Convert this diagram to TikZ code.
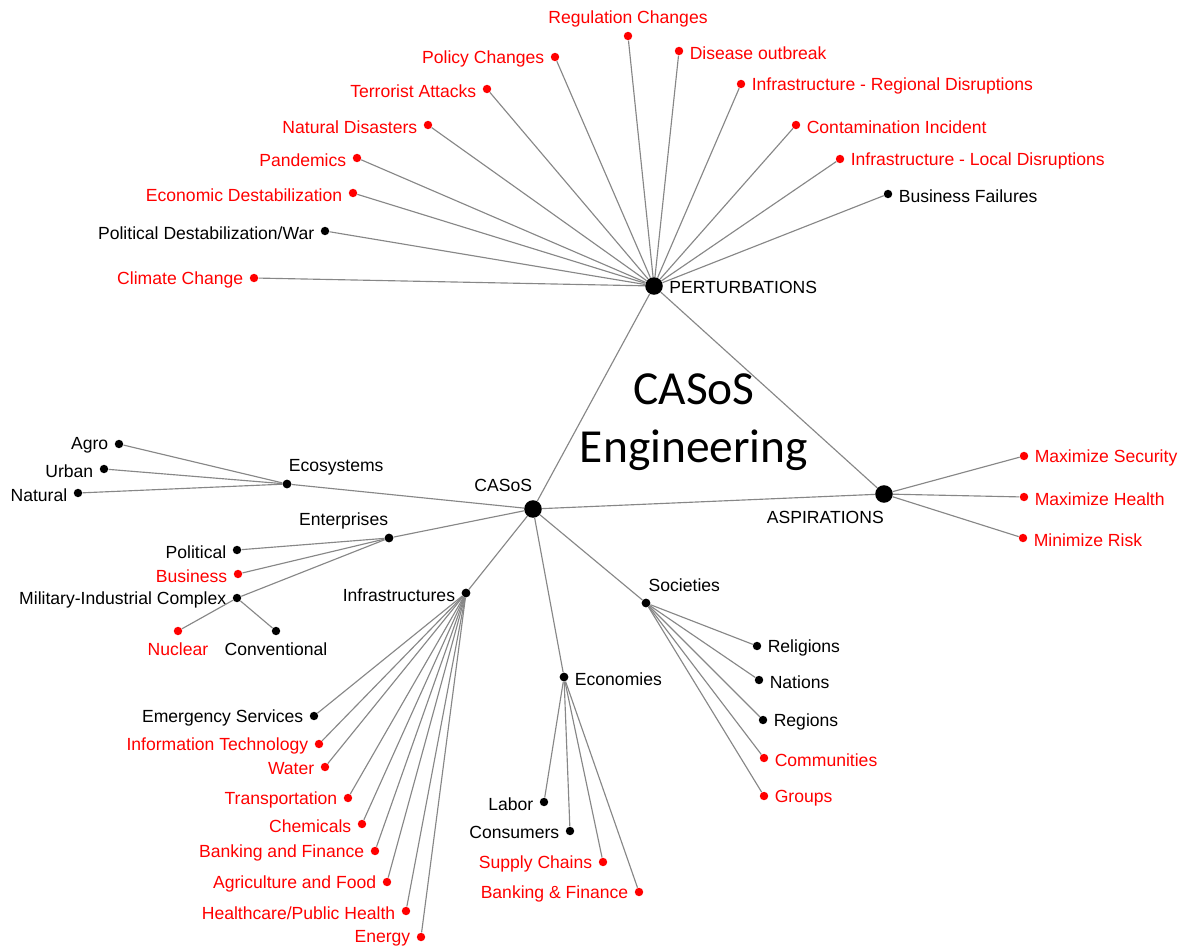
\documentclass[tikz,border=0pt]{standalone}
\usepackage{fontspec}
\setmainfont{Liberation Sans}
\newfontfamily\titlefont{Carlito}
\usetikzlibrary{positioning}
\definecolor{linkgray}{RGB}{135,135,135}
\definecolor{tagred}{RGB}{255,0,0}

\begin{document}
\begin{tikzpicture}[x=0.02cm, y=-0.02cm, font=\fontsize{10}{12}\selectfont]
	\tikzstyle{dot} = [circle, fill=black, inner sep=0pt, minimum size=4.8pt]
	\tikzstyle{rdot} = [dot, fill=tagred]
	\tikzstyle{sub} = [dot, minimum size=5pt]
	\tikzstyle{hub} = [dot, minimum size=10pt]
	\tikzstyle{link} = [draw=linkgray, line width=0.65pt]
	\tikzstyle{every label} = [yshift=-1pt]

	\useasboundingbox (0,0) rectangle (1186,949);

	% hubs
	\node[hub, label=right:PERTURBATIONS] (pert) at (654,286) {};
	\node[hub, label={[anchor=south east, xshift=3pt, yshift=2pt]north:CASoS}] (casos) at (533,509) {};
	\node[hub, label={[anchor=north east, xshift=3.4pt]south:ASPIRATIONS}] (asp) at (884,494) {};
	\node[font=\titlefont\fontsize{27}{33}\selectfont, align=center] (title) at (694,422) {CASoS\\Engineering};

	% second level
	\node[sub, label={[anchor=south west, xshift=-2.5pt]north:Ecosystems}] (eco) at (287,484) {};
	\node[sub, label={[anchor=south east, xshift=3pt]north:Enterprises}] (ent) at (389,538) {};
	\node[sub, label=left:Infrastructures] (infra) at (466,593) {};
	\node[sub, label=right:Economies] (econo) at (564,677) {};
	\node[sub, label={[anchor=south west, xshift=-2pt, yshift=1pt]north:Societies}] (soc) at (646,603) {};
	\node[dot, label=left:Military-Industrial Complex] (mic) at (237,598) {};

	% perturbations
	\node[rdot, label={[tagred]left:Climate Change}] (clim) at (254,278) {};
	\node[dot, label=left:Political Destabilization/War] (polwar) at (325,231) {};
	\node[rdot, label={[tagred]left:Economic Destabilization}] (ecodes) at (353,193) {};
	\node[rdot, label={[tagred]left:Pandemics}] (pand) at (357,158) {};
	\node[rdot, label={[tagred]left:Natural Disasters}] (natdis) at (428,125) {};
	\node[rdot, label={[tagred]left:Terrorist Attacks}] (terr) at (487,89) {};
	\node[rdot, label={[tagred]left:Policy Changes}] (policy) at (555,57) {};
	\node[rdot, label={[tagred]above:Regulation Changes}] (regul) at (628,36) {};
	\node[rdot, label={[tagred]right:Disease outbreak}] (disease) at (679,51) {};
	\node[rdot, label={[tagred]right:Infrastructure - Regional Disruptions}] (infreg) at (741,84) {};
	\node[rdot, label={[tagred]right:Contamination Incident}] (contam) at (796,125) {};
	\node[rdot, label={[tagred]right:Infrastructure - Local Disruptions}] (infloc) at (840,159) {};
	\node[dot, label=right:Business Failures] (bizfail) at (888,194) {};

	% aspirations
	\node[rdot, label={[tagred]right:Maximize Security}] (maxsec) at (1024,456) {};
	\node[rdot, label={[tagred]right:Maximize Health}] (maxhealth) at (1024,497) {};
	\node[rdot, label={[tagred]right:Minimize Risk}] (minrisk) at (1023,538) {};

	% ecosystems
	\node[dot, label=left:Agro] (agro) at (119,444) {};
	\node[dot, label=left:Urban] (urban) at (104,469) {};
	\node[dot, label=left:Natural] (natural) at (78,493) {};

	% enterprises
	\node[dot, label=left:Political] (polit) at (237,550) {};
	\node[rdot, label={[tagred]left:Business}] (biz) at (238,574) {};
	\node[rdot, label={[tagred, yshift=0.5pt]below:Nuclear}] (nuc) at (178,631) {};
	\node[dot, label={[yshift=0.5pt]below:Conventional}] (conv) at (276,631) {};

	% infrastructures
	\node[dot, label=left:Emergency Services] (emerg) at (314,716) {};
	\node[rdot, label={[tagred]left:Information Technology}] (infotech) at (319,744) {};
	\node[rdot, label={[tagred]left:Water}] (water) at (325,767) {};
	\node[rdot, label={[tagred]left:Transportation}] (transp) at (348,798) {};
	\node[rdot, label={[tagred]left:Chemicals}] (chem) at (362,824) {};
	\node[rdot, label={[tagred]left:Banking and Finance}] (bankfin) at (375,851) {};
	\node[rdot, label={[tagred]left:Agriculture and Food}] (agri) at (387,882) {};
	\node[rdot, label={[tagred]left:Healthcare/Public Health}] (health) at (406,911) {};
	\node[rdot, label={[tagred]left:Energy}] (energy) at (421,937) {};

	% economies
	\node[dot, label=left:Labor] (labor) at (544,802) {};
	\node[dot, label=left:Consumers] (consum) at (570,831) {};
	\node[rdot, label={[tagred]left:Supply Chains}] (supply) at (603,862) {};
	\node[rdot, label={[tagred]left:Banking \& Finance}] (bankfin2) at (639,892) {};

	% societies
	\node[dot, label=right:Religions] (relig) at (757,646) {};
	\node[dot, label=right:Nations] (nations) at (759,680) {};
	\node[dot, label=right:Regions] (regions) at (763,720) {};
	\node[rdot, label={[tagred]right:Communities}] (commun) at (764,758) {};
	\node[rdot, label={[tagred]right:Groups}] (groups) at (764,796) {};

	\path[link]
		(casos) edge (pert)
		(casos) edge (asp)
		(pert) edge (asp)
		(casos) edge (eco)
		(casos) edge (ent)
		(casos) edge (infra)
		(casos) edge (econo)
		(casos) edge (soc)

		(pert) edge (clim)
		(pert) edge (polwar)
		(pert) edge (ecodes)
		(pert) edge (pand)
		(pert) edge (natdis)
		(pert) edge (terr)
		(pert) edge (policy)
		(pert) edge (regul)
		(pert) edge (disease)
		(pert) edge (infreg)
		(pert) edge (contam)
		(pert) edge (infloc)
		(pert) edge (bizfail)

		(asp) edge (maxsec)
		(asp) edge (maxhealth)
		(asp) edge (minrisk)

		(eco) edge (agro)
		(eco) edge (urban)
		(eco) edge (natural)

		(ent) edge (polit)
		(ent) edge (biz)
		(ent) edge (mic)
		(mic) edge (nuc)
		(mic) edge (conv)

		(infra) edge (emerg)
		(infra) edge (infotech)
		(infra) edge (water)
		(infra) edge (transp)
		(infra) edge (chem)
		(infra) edge (bankfin)
		(infra) edge (agri)
		(infra) edge (health)
		(infra) edge (energy)

		(econo) edge (labor)
		(econo) edge (consum)
		(econo) edge (supply)
		(econo) edge (bankfin2)

		(soc) edge (relig)
		(soc) edge (nations)
		(soc) edge (regions)
		(soc) edge (commun)
		(soc) edge (groups)
	;
\end{tikzpicture}
\end{document}
